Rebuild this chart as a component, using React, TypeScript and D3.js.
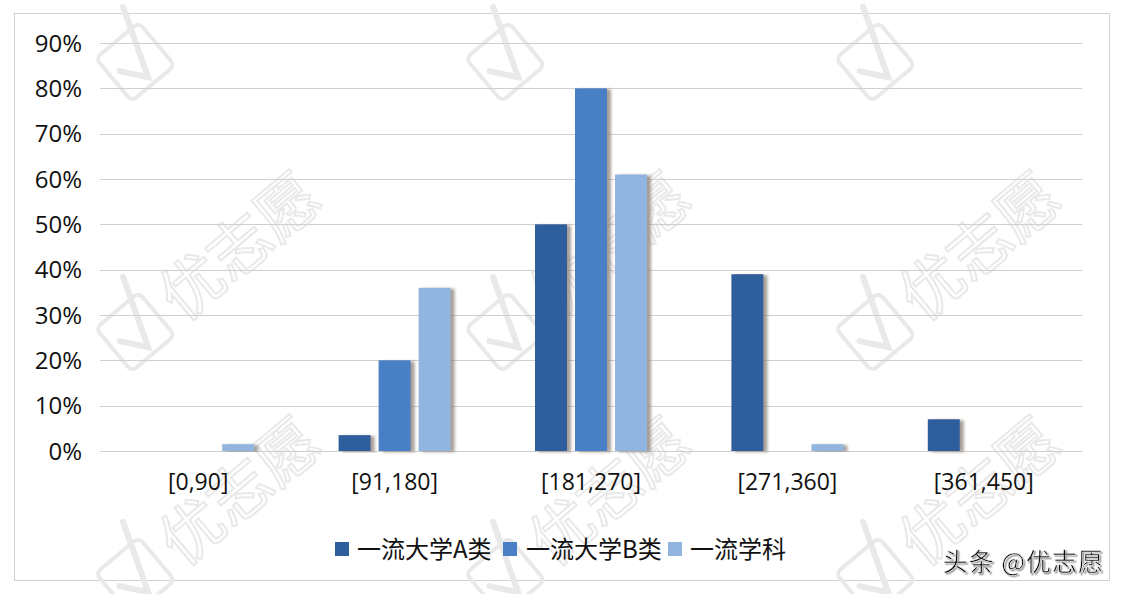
import React from "react";
import * as d3 from "d3";

const categories = ["[0,90]", "[91,180]", "[181,270]", "[271,360]", "[361,450]"];
const seriesNames = ["一流大学A类", "一流大学B类", "一流学科"];
const seriesA = [0, 0.035, 0.5, 0.39, 0.07];
const seriesB = [0, 0.2, 0.8, 0, 0];
const seriesC = [0.015, 0.36, 0.61, 0.015, 0];
const yTicks = [0, 0.1, 0.2, 0.3, 0.4, 0.5, 0.6, 0.7, 0.8, 0.9];
const seriesColors = ["#2F5E9C", "#4A7FC5", "#92B5E0"];
const sourceLabel = "头条 @优志愿";
const watermarkText = "优志愿";

const W = 1124;
const H = 594;
const FONT = "'Open Sans', 'Noto Sans CJK SC', sans-serif";
const CJK = "'Noto Sans CJK SC', 'Open Sans', sans-serif";
const WM = "#e9e9e9";

function Watermark({ x, y, showText }: { x: number; y: number; showText: boolean }) {
  return (
    <g transform={`translate(${x},${y}) rotate(-40)`}>
      <rect x={-150} y={-30} width={56} height={56} rx={6} fill="none" stroke={WM} strokeWidth={4} />
      <path d="M-140,-5 L-122,18 L-96,-52" fill="none" stroke={WM} strokeWidth={6} strokeLinecap="round" />
      {showText && (
        <text x={-80} y={22} fontSize={62} fontFamily={CJK} fill="none" stroke={WM} strokeWidth={2}>
          {watermarkText}
        </text>
      )}
    </g>
  );
}

export default function App() {
  const x0 = d3.scaleBand<string>().domain(categories).range([100, 1082]).padding(0);
  const x1 = d3.scaleBand<string>().domain(seriesNames).range([-60, 60]).paddingInner(0.2).paddingOuter(0.1);
  const y = d3.scaleLinear().domain([0, 0.9]).range([451, 43]);
  const seriesData = [seriesA, seriesB, seriesC];

  const wmPositions: [number, number, boolean][] = [];
  const rows = [-15, 255, 500];
  const cols = [230, 600, 970];
  rows.forEach((ry, ri) => cols.forEach((cx) => wmPositions.push([cx, ry, ri > 0])));

  const legendItems = [
    { sx: 335, tx: 357 },
    { sx: 503, tx: 526 },
    { sx: 668, tx: 690 },
  ];

  return (
    <svg
      width={W}
      height={H}
      style={{ position: "absolute", left: 0, top: 0, background: "#ffffff" }}
    >
      <defs>
        <filter id="barShadow" x="-30%" y="-10%" width="160%" height="120%">
          <feDropShadow dx={4} dy={1} stdDeviation={1.6} floodColor="#8a8077" floodOpacity={0.75} />
        </filter>
        <filter id="txtShadow" x="-10%" y="-30%" width="120%" height="160%">
          <feDropShadow dx={1.5} dy={1.5} stdDeviation={0.6} floodColor="#9a9a9a" floodOpacity={0.9} />
        </filter>
      </defs>
      <rect x={0} y={0} width={W} height={H} fill="#ffffff" />
      <rect x={14.5} y={13.5} width={1095} height={567} fill="#ffffff" stroke="#d2d2d2" strokeWidth={1} />

      {wmPositions.map(([wx, wy, st], i) => (
        <Watermark key={i} x={wx} y={wy} showText={st} />
      ))}

      {yTicks.map((t) => (
        <g key={t}>
          <line x1={100} x2={1082} y1={Math.round(y(t)) + 0.5} y2={Math.round(y(t)) + 0.5} stroke="#cfcfcf" strokeWidth={1} />
          <text
            x={82}
            y={y(t)}
            dy="0.36em"
            textAnchor="end"
            fontSize={24}
            fontFamily={FONT}
            fill="#111"
          >
            {`${Math.round(t * 100)}%`}
          </text>
        </g>
      ))}

      {categories.map((c, ci) => (
        <g key={c} transform={`translate(${(x0(c) ?? 0) + x0.bandwidth() / 2},0)`}>
          {seriesNames.map((s, si) => {
            const v = seriesData[si][ci];
            if (v <= 0) return null;
            const top = y(v);
            return (
              <rect
                key={s}
                x={x1(s)}
                y={top}
                width={x1.bandwidth()}
                height={y(0) - top}
                fill={seriesColors[si]}
                filter="url(#barShadow)"
              />
            );
          })}
          <text x={0} y={490} textAnchor="middle" fontSize={23} fontFamily={FONT} fill="#111">
            {c}
          </text>
        </g>
      ))}

      {seriesNames.map((s, i) => (
        <g key={s}>
          <rect x={legendItems[i].sx} y={542} width={14} height={14} fill={seriesColors[i]} />
          <text x={legendItems[i].tx} y={558} fontSize={24} fontFamily={CJK} fill="#111">
            {s}
          </text>
        </g>
      ))}

      <text
        x={1104}
        y={571}
        textAnchor="end"
        fontSize={25}
        letterSpacing={1}
        fontFamily={CJK}
        fill="#111"
        stroke="#ffffff"
        strokeWidth={0.5}
        filter="url(#txtShadow)"
      >
        {sourceLabel}
      </text>
    </svg>
  );
}
